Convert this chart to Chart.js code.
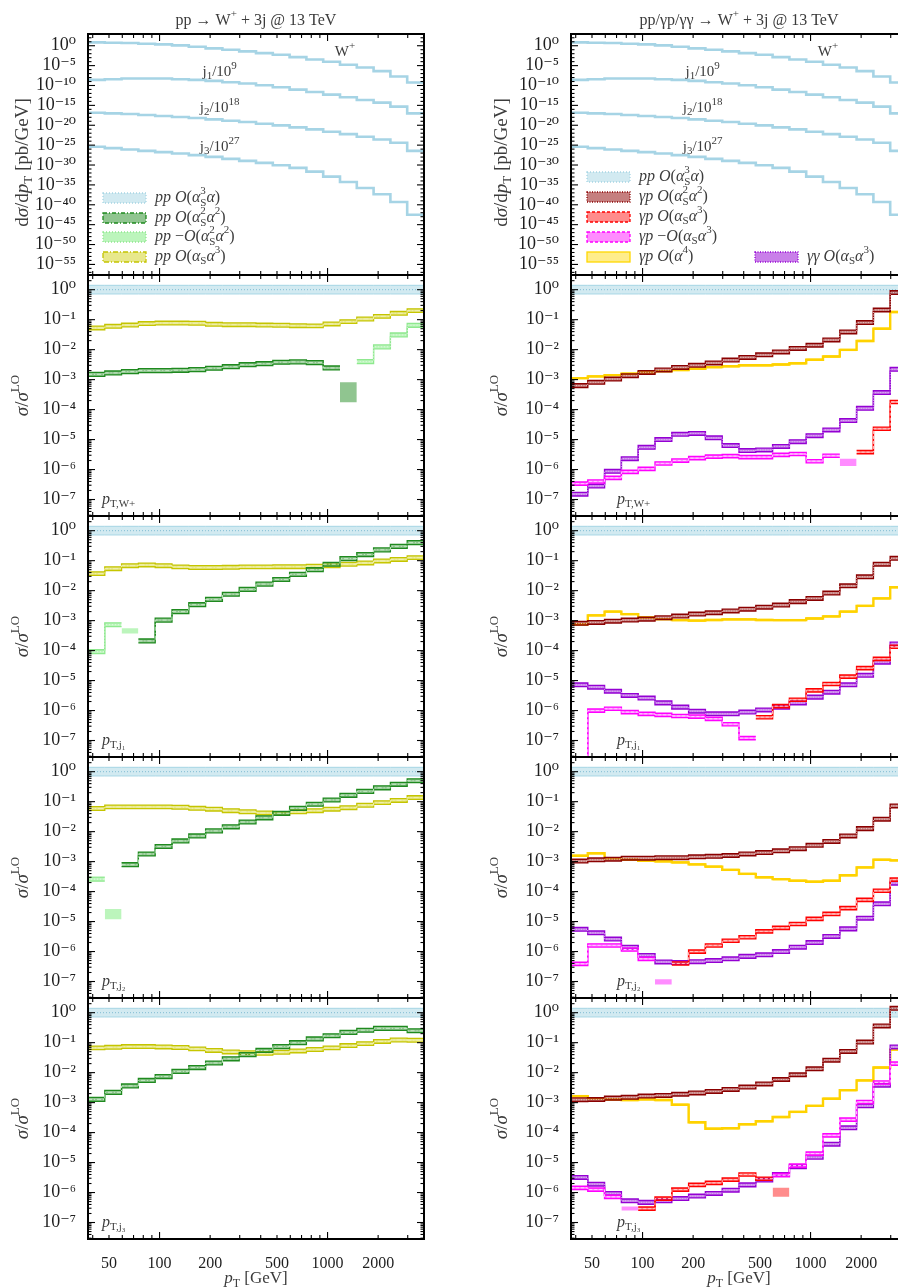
<!DOCTYPE html>
<html>
<head>
<meta charset="utf-8">
<script src="https://cdn.jsdelivr.net/npm/chart.js@4.4.1/dist/chart.umd.min.js"></script>
<style>
  html, body { margin: 0; padding: 0; background: #fff; overflow: hidden; }
  body { position: relative; width: 898px; height: 1288px; }
  canvas { position: absolute; }
</style>
</head>
<body>
<script>
// pT bin edges [GeV] (20 log bins)
const binEdges = [37.5, 47.2, 59.4, 74.8, 94.2, 118.6, 149.3, 188.0, 236.6, 297.9, 375.0,
                  472.1, 594.3, 748.2, 941.9, 1185.8, 1492.8, 1879.3, 2365.9, 2978.5, 3750];
const xTickLabels = [50, 100, 200, 500, 1000, 2000];
const ratioTicks = [1, 1e-1, 1e-2, 1e-3, 1e-4, 1e-5, 1e-6, 1e-7];
const dsTicks = [1, 1e-5, 1e-10, 1e-15, 1e-20, 1e-25, 1e-30, 1e-35, 1e-40, 1e-45, 1e-50, 1e-55];

// LO distributions dsigma/dpT [pb/GeV]
const loW  = [6.9, 5.7, 4.7, 3.2, 2.2, 1.2, 0.56, 0.21, 0.098, 0.037, 0.014, 5.4e-3, 1.4e-3, 3.5e-4, 9.1e-5, 1.6e-5, 3.4e-6, 4.0e-7, 1.8e-8, 5.5e-10];
const loJ1 = [2.6, 3.8, 5.6, 5.6, 5.6, 3.8, 2.6, 1.45, 0.67, 0.31, 0.117, 0.036, 9.4e-3, 2.4e-3, 5.1e-4, 1.1e-4, 2.3e-5, 4.9e-6, 4.8e-7, 1.0e-8];
const loJ2 = [14.5, 10, 6.8, 3.8, 2.1, 1.17, 0.66, 0.30, 0.138, 0.065, 0.0245, 9.3e-3, 2.9e-3, 9.1e-4, 2.3e-4, 6.0e-5, 1.26e-5, 2.7e-6, 3.9e-7, 3.7e-9];
const loJ3 = [38, 17.4, 8.1, 3.7, 1.7, 0.79, 0.30, 0.112, 0.035, 0.011, 3.5e-3, 8.9e-4, 1.9e-4, 2.2e-5, 1.2e-6, 5.5e-8, 1.7e-9, 4.3e-11, 4.9e-13, 3.1e-16];
const loScale = [1, 1e-9, 1e-18, 1e-27];

// LO ratio (=1)
const loRatio = [1, 1, 1, 1, 1, 1, 1, 1, 1, 1, 1, 1, 1, 1, 1, 1, 1, 1, 1, 1];

// ratios sigma/sigma_LO, pT of W+
const wS2a2     = [1.5e-3, 1.67e-3, 1.85e-3, 2.0e-3, 2.0e-3, 2.05e-3, 2.15e-3, 2.4e-3, 2.7e-3, 3.15e-3, 3.4e-3, 3.8e-3, 3.9e-3, 3.7e-3, 2.45e-3, null, null, null, null, null];
const wS2a2Neg  = [null, null, null, null, null, null, null, null, null, null, null, null, null, null, null, null, 4.0e-3, 0.0124, 0.031, 0.065];
const wSa3      = [0.053, 0.060, 0.066, 0.074, 0.077, 0.077, 0.076, 0.070, 0.068, 0.068, 0.066, 0.065, 0.063, 0.062, 0.072, 0.086, 0.105, 0.129, 0.163, 0.20];
const wGpS2a2   = [6.3e-4, 8.1e-4, 1.04e-3, 1.35e-3, 1.74e-3, 2.1e-3, 2.55e-3, 3.0e-3, 3.6e-3, 4.5e-3, 5.5e-3, 6.7e-3, 8.4e-3, 0.011, 0.014, 0.021, 0.039, 0.08, 0.21, 0.8];
const wGpSa3    = [null, null, null, null, null, null, null, null, null, null, null, null, null, null, null, null, null, 3.8e-6, 2.3e-5, 1.8e-4];
const wGpSa3Neg = [3.4e-7, 4.0e-7, 5.3e-7, 8.4e-7, 1.05e-6, 1.6e-6, 2.0e-6, 2.4e-6, 2.7e-6, 2.8e-6, 2.6e-6, 2.6e-6, 3.1e-6, 3.3e-6, 1.9e-6, 2.9e-6, null, null, null, null];
const wGpA4     = [1.12e-3, 1.28e-3, 1.41e-3, 1.58e-3, 1.74e-3, 1.92e-3, 2.1e-3, 2.3e-3, 2.6e-3, 2.8e-3, 3.0e-3, 3.0e-3, 3.2e-3, 3.5e-3, 4.6e-3, 5.9e-3, 9.8e-3, 0.0195, 0.05, 0.18];
const wGgSa3    = [1.5e-7, 2.8e-7, 8.7e-7, 2.3e-6, 5.5e-6, 1.0e-5, 1.5e-5, 1.6e-5, 1.14e-5, 6.3e-6, 4.3e-6, 4.5e-6, 5.9e-6, 8.5e-6, 1.35e-5, 2.1e-5, 4.3e-5, 1.1e-4, 3.7e-4, 2.2e-3];
// bins where only the band survives: [bin, low, high]
const wS2a2Box     = [15, 1.75e-4, 8.1e-4];
const wGpSa3NegBox = [16, 1.3e-6, 2.3e-6];

// pT of leading jet
const j1S2a2     = [null, null, null, 2.1e-4, 1.04e-3, 2.0e-3, 3.4e-3, 5.1e-3, 7.6e-3, 0.011, 0.0165, 0.0236, 0.035, 0.05, 0.076, 0.117, 0.16, 0.23, 0.30, 0.40];
const j1S2a2Neg  = [9.2e-5, 7.3e-4, null, null, null, null, null, null, null, null, null, null, null, null, null, null, null, null, null, null];
const j1Sa3      = [0.037, 0.054, 0.068, 0.072, 0.068, 0.062, 0.059, 0.059, 0.060, 0.062, 0.062, 0.063, 0.063, 0.065, 0.068, 0.076, 0.084, 0.098, 0.11, 0.126];
const j1GpS2a2   = [8.1e-4, 8.7e-4, 9.6e-4, 1.04e-3, 1.12e-3, 1.25e-3, 1.42e-3, 1.65e-3, 1.83e-3, 2.1e-3, 2.4e-3, 2.8e-3, 3.3e-3, 4.3e-3, 5.5e-3, 8.3e-3, 0.0145, 0.029, 0.076, 0.12];
const j1GpSa3    = [null, null, null, null, null, null, null, null, null, null, null, 6.0e-7, 1.4e-6, 2.3e-6, 4.7e-6, 7.7e-6, 1.35e-5, 2.6e-5, 5.3e-5, 1.35e-4];
const j1GpSa3Neg = [1e-9, 1.0e-6, 1.15e-6, 8.9e-7, 7.8e-7, 7.2e-7, 6.6e-7, 6.3e-7, 5.3e-7, 3.5e-7, 1.2e-7, null, null, null, null, null, null, null, null, null];
const j1GpA4     = [7.6e-4, 1.5e-3, 2.0e-3, 1.65e-3, 1.28e-3, 1.12e-3, 1.04e-3, 1.0e-3, 1.05e-3, 1.1e-3, 1.1e-3, 1.05e-3, 1.04e-3, 1.04e-3, 1.18e-3, 1.38e-3, 2.0e-3, 3.1e-3, 5.5e-3, 0.013];
const j1GgSa3    = [7.2e-6, 6.0e-6, 4.4e-6, 3.2e-6, 2.6e-6, 1.8e-6, 1.3e-6, 9.5e-7, 7.8e-7, 7.8e-7, 8.9e-7, 1.05e-6, 1.3e-6, 1.8e-6, 2.8e-6, 4.1e-6, 7.2e-6, 1.5e-5, 4.1e-5, 1.66e-4];
const j1S2a2NegBox = [2, 3.7e-4, 5.6e-4];

// pT of second jet
const j2S2a2     = [null, null, 7.9e-4, 1.8e-3, 3.2e-3, 4.9e-3, 7.2e-3, 0.0106, 0.0145, 0.021, 0.029, 0.041, 0.060, 0.082, 0.114, 0.163, 0.22, 0.29, 0.38, 0.50];
const j2S2a2Neg  = [2.6e-4, null, null, null, null, null, null, null, null, null, null, null, null, null, null, null, null, null, null, null];
const j2Sa3      = [0.059, 0.067, 0.067, 0.067, 0.067, 0.065, 0.060, 0.056, 0.050, 0.046, 0.042, 0.040, 0.046, 0.050, 0.056, 0.063, 0.076, 0.093, 0.11, 0.137];
const j2GpS2a2   = [1.04e-3, 1.15e-3, 1.2e-3, 1.3e-3, 1.3e-3, 1.35e-3, 1.35e-3, 1.45e-3, 1.5e-3, 1.6e-3, 1.8e-3, 2.0e-3, 2.3e-3, 2.7e-3, 3.5e-3, 4.7e-3, 7.2e-3, 0.0126, 0.026, 0.072];
const j2GpSa3    = [null, null, null, null, null, null, 4.0e-7, 1.0e-6, 1.6e-6, 2.3e-6, 3.0e-6, 4.7e-6, 6.2e-6, 8.3e-6, 1.23e-5, 1.8e-5, 2.8e-5, 5.3e-5, 1.07e-4, 2.5e-4];
const j2GpSa3Neg = [3.9e-7, 1.6e-6, 1.6e-6, 1.17e-6, 5.7e-7, null, null, null, null, null, null, null, null, null, null, null, null, null, null, null];
const j2GpA4     = [1.57e-3, 1.9e-3, 1.3e-3, 1.15e-3, 1.07e-3, 1.02e-3, 9.4e-4, 8.1e-4, 6.8e-4, 5.3e-4, 3.9e-4, 3.0e-4, 2.6e-4, 2.3e-4, 2.14e-4, 2.3e-4, 3.5e-4, 6.4e-4, 1.15e-3, 1.1e-3];
const j2GgSa3    = [5.5e-6, 4.2e-6, 2.6e-6, 1.4e-6, 7.4e-7, 4.5e-7, 4.3e-7, 4.6e-7, 5.0e-7, 5.7e-7, 6.9e-7, 7.8e-7, 1.0e-6, 1.4e-6, 2.0e-6, 3.2e-6, 5.7e-6, 1.3e-5, 3.9e-5, 1.9e-4];
const j2S2a2NegBox  = [1, 1.2e-5, 2.6e-5];
const j2GpSa3NegBox = [5, 8e-8, 1.2e-7];

// pT of third jet
const j3S2a2     = [1.28e-3, 2.2e-3, 3.6e-3, 5.5e-3, 7.4e-3, 0.011, 0.0148, 0.021, 0.029, 0.040, 0.055, 0.074, 0.10, 0.133, 0.17, 0.22, 0.26, 0.30, 0.30, 0.25];
const j3Sa3      = [0.067, 0.070, 0.074, 0.074, 0.072, 0.069, 0.062, 0.055, 0.049, 0.046, 0.044, 0.048, 0.053, 0.059, 0.067, 0.080, 0.093, 0.11, 0.123, 0.12];
const j3GpS2a2   = [1.25e-3, 1.27e-3, 1.41e-3, 1.5e-3, 1.65e-3, 1.73e-3, 1.9e-3, 2.1e-3, 2.35e-3, 2.75e-3, 3.3e-3, 4.2e-3, 5.9e-3, 8.5e-3, 0.0134, 0.026, 0.051, 0.105, 0.36, 1.4];
const j3GpSa3    = [null, null, null, null, 2.9e-7, 6.3e-7, 1.26e-6, 1.8e-6, 2.1e-6, 2.7e-6, 4.0e-6, 2.9e-6, null, null, null, null, null, null, null, null];
const j3GpSa3Neg = [1.44e-6, 1.26e-6, 7.2e-7, null, null, null, null, null, null, null, null, null, 3.8e-6, 7.9e-6, 2.0e-5, 8.1e-5, 2.7e-4, 1.05e-3, 4.7e-3, 0.02];
const j3GpA4     = [1.65e-3, 1.4e-3, 1.28e-3, 1.22e-3, 1.28e-3, 1.22e-3, 8.5e-4, 2.2e-4, 1.35e-4, 1.4e-4, 1.9e-4, 2.4e-4, 3.3e-4, 4.9e-4, 7.8e-4, 1.35e-3, 2.6e-3, 5.5e-3, 0.0148, 0.059];
const j3GgSa3    = [3.2e-6, 1.9e-6, 9.3e-7, 5.3e-7, 4.7e-7, 5.3e-7, 6.3e-7, 7.6e-7, 9.3e-7, 1.2e-6, 1.8e-6, 2.6e-6, 4.0e-6, 7.2e-6, 1.5e-5, 4.1e-5, 1.44e-4, 7.8e-4, 3.8e-3, 0.072];
const j3GpSa3Box    = [12, 7.2e-7, 1.44e-6];
const j3GpSa3NegBox = [3, 2.5e-7, 3.4e-7];

const SERIF = "'Liberation Serif', 'DejaVu Serif', serif";
const TXT = '#3c3c3c';

const styles = {
  lo:     {edge: '#a6d5e4', fill: 'rgba(173,216,230,0.55)', mid: '#7fbcd2', dash: [1, 2],       w: 1,   f: [0.72, 1.4]},
  s2a2:   {edge: '#1f8a1f', fill: 'rgba(34,139,34,0.5)',    mid: '#c6e8c6', dash: [4, 2, 1, 2], w: 1.3, f: [0.86, 1.16]},
  s2a2n:  {edge: '#8fe88f', fill: 'rgba(144,238,144,0.6)',  mid: '#dff7df', dash: [1, 2],       w: 1.3, f: [0.86, 1.16]},
  sa3:    {edge: '#c4c400', fill: 'rgba(204,204,0,0.45)',   mid: '#f0f0b0', dash: [5, 2, 1, 2], w: 1.3, f: [0.87, 1.15]},
  gpS2a2: {edge: '#8b0000', fill: 'rgba(139,0,0,0.5)',      mid: '#e8c4c4', dash: [1, 1.5],     w: 1.4, f: [0.87, 1.15]},
  gpSa3:  {edge: '#ff0000', fill: 'rgba(255,0,0,0.45)',     mid: '#ffc4c4', dash: [3, 2],       w: 1.4, f: [0.88, 1.13]},
  gpSa3n: {edge: '#ff00ff', fill: 'rgba(255,0,255,0.45)',   mid: '#ffcaff', dash: [3, 2],       w: 1.4, f: [0.88, 1.13]},
  gpA4:   {edge: '#ffd700', fill: 'rgba(255,215,0,0.45)',   mid: '#ffd200', dash: [],           w: 1,   f: [0.95, 1.05]},
  gg:     {edge: '#9400d3', fill: 'rgba(148,0,211,0.5)',    mid: '#dcbaf0', dash: [1, 1.5],     w: 1.4, f: [0.87, 1.15]}
};

// histogram outline from per-bin values
function hist(vals) {
  const pts = [];
  vals.forEach((v, k) => {
    if (v === null) {
      if (pts.length && pts[pts.length - 1].y !== null) pts.push({x: binEdges[k], y: null});
      return;
    }
    pts.push({x: binEdges[k], y: v}, {x: binEdges[k + 1], y: v});
  });
  return pts;
}

function band(vals, key) {
  const st = styles[key];
  const lo = vals.map(v => v === null ? null : v * st.f[0]);
  const hi = vals.map(v => v === null ? null : v * st.f[1]);
  return [
    {data: hist(lo), borderColor: st.edge, borderWidth: st.w, fill: false},
    {data: hist(hi), borderColor: st.edge, borderWidth: st.w, fill: '-1', backgroundColor: st.fill},
    {data: hist(vals), borderColor: st.mid, borderWidth: key === 'gpA4' ? 2.4 : 1, borderDash: st.dash, fill: false}
  ];
}

function bandOnly(b, key) {
  const lo = loRatio.map((v, k) => k === b[0] ? b[1] : null);
  const hi = loRatio.map((v, k) => k === b[0] ? b[2] : null);
  return [
    {data: hist(lo), borderColor: 'rgba(0,0,0,0)', borderWidth: 0, fill: false},
    {data: hist(hi), borderColor: 'rgba(0,0,0,0)', borderWidth: 0, fill: '-1', backgroundColor: styles[key].fill}
  ];
}

// small rich-text helper: '*' italic, '^' sup, '_' sub, '=' sub+sup stacked
function rich(ctx, parts, x, y, size, align, color, rot) {
  const big = it => (it ? 'italic ' : '') + size + 'px ' + SERIF;
  const small = Math.round(size * 0.7) + 'px ' + SERIF;
  const items = parts.map(p => {
    const c = p[0];
    if (c === '*') return {t: p.slice(1), font: big(true), dy: 0};
    if (c === '^') return {t: p.slice(1), font: small, dy: -0.4 * size};
    if (c === '_') return {t: p.slice(1), font: small, dy: 0.28 * size};
    if (c === '=') return {t: p[1], t2: p.slice(2), font: small, dy: 0.32 * size, dy2: -0.42 * size};
    return {t: p, font: big(false), dy: 0};
  });
  ctx.save();
  let w = 0;
  items.forEach(it => {
    ctx.font = it.font;
    it.w = ctx.measureText(it.t).width;
    if (it.t2) it.w = Math.max(it.w, ctx.measureText(it.t2).width);
    w += it.w;
  });
  ctx.translate(x, y);
  if (rot) ctx.rotate(rot);
  let cx = align === 'center' ? -w / 2 : align === 'right' ? -w : 0;
  ctx.fillStyle = color;
  ctx.textBaseline = 'middle';
  ctx.textAlign = 'left';
  items.forEach(it => {
    ctx.font = it.font;
    ctx.fillText(it.t, cx, it.dy);
    if (it.t2) ctx.fillText(it.t2, cx, it.dy2);
    cx += it.w;
  });
  ctx.restore();
}

const SUP = {'-': '⁻', '0': '⁰', '1': '¹', '2': '²', '3': '³', '4': '⁴', '5': '⁵', '6': '⁶', '7': '⁷', '8': '⁸', '9': '⁹'};
const pow10 = v => '10' + String(Math.round(Math.log10(v))).split('').map(c => SUP[c]).join('');

const xFrameTicks = [40, 50, 60, 70, 80, 90, 100, 200, 300, 400, 500, 600, 700, 800, 900, 1000, 2000, 3000];

const extras = new Map();

const deco = {
  id: 'deco',
  afterDraw(chart) {
    const ex = extras.get(chart.canvas);
    const {ctx, chartArea: a} = chart;
    const x = chart.scales.x, y = chart.scales.y;
    const seg = (x1, y1, x2, y2) => { ctx.beginPath(); ctx.moveTo(x1, y1); ctx.lineTo(x2, y2); ctx.stroke(); };
    ctx.save();
    ctx.strokeStyle = '#000';
    ctx.lineWidth = 1.1;
    xFrameTicks.forEach(v => {
      const px = x.getPixelForValue(v);
      const len = (v === 100 || v === 1000) ? 7 : 4;
      seg(px, a.top, px, a.top + len);
      seg(px, a.bottom, px, a.bottom - len);
    });
    const ytk = (v, len) => {
      const py = y.getPixelForValue(v);
      if (py < a.top || py > a.bottom) return;
      seg(a.left, py, a.left + len, py);
      seg(a.right, py, a.right - len, py);
    };
    if (ex.row === 0) {
      for (let d = -58; d <= 3; d++) ytk(Math.pow(10, d), d % 5 === 0 ? 7 : 3.5);
    } else {
      for (let d = -8; d <= 0; d++) for (let m = 1; m <= 9; m++) ytk(m * Math.pow(10, d), m === 1 ? 7 : 3.5);
    }
    ctx.lineWidth = 2;
    ctx.strokeRect(a.left, a.top, a.right - a.left, a.bottom - a.top);

    const cy = (a.top + a.bottom) / 2;
    const ylabX = ex.col ? 52 : 23;
    if (ex.row === 0) {
      rich(ctx, ex.title, (a.left + a.right) / 2, 21, 16, 'center', TXT);
      rich(ctx, ['d', '*σ', '/d', '*p', '_T', ' [pb/GeV]'], ylabX, cy + 8, 19, 'center', TXT, -Math.PI / 2);
      ex.notes.forEach(n => rich(ctx, n[0], x.getPixelForValue(n[1]), y.getPixelForValue(n[2]), 15, 'center', TXT));
      ex.legend.forEach(l => {
        const st = styles[l[0]];
        const bx = l[2], by = l[3];
        ctx.fillStyle = st.fill;
        ctx.fillRect(bx, by - 5, 43, 10);
        ctx.setLineDash(st.dash);
        ctx.strokeStyle = st.edge;
        ctx.lineWidth = 1.3;
        ctx.strokeRect(bx, by - 5, 43, 10);
        ctx.setLineDash([]);
        rich(ctx, l[1], bx + 52, by, 16, 'left', TXT);
      });
    } else {
      rich(ctx, ['*σ', '/', '*σ', '^LO'], ylabX, cy, 19, 'center', TXT, -Math.PI / 2);
      rich(ctx, ex.label, a.left + (ex.col ? 46 : 14), a.bottom - 16, 16, 'left', TXT);
    }
    if (ex.row === 4) {
      rich(ctx, ['*p', '_T', ' [GeV]'], (a.left + a.right) / 2, 281, 17, 'center', TXT);
    }
    ctx.restore();
  }
};

function makePanel(row, col, datasets, extra) {
  const cv = document.createElement('canvas');
  const W = col ? 470 : 450;
  const H = row === 0 ? 275 : row === 4 ? 290 : 241;
  const top = row === 0 ? 0 : 34 + 241 * row;
  cv.width = W; cv.height = H;
  cv.style.left = (col ? 450 : 0) + 'px';
  cv.style.top = top + 'px';
  cv.style.width = W + 'px';
  cv.style.height = H + 'px';
  document.body.appendChild(cv);
  extras.set(cv, Object.assign({row: row, col: col}, extra));
  const zeroPad = s => { s.paddingTop = 0; s.paddingBottom = 0; s.paddingLeft = 0; s.paddingRight = 0; };
  return new Chart(cv, {
    type: 'line',
    data: {
      datasets: datasets.map((d, i) => Object.assign({order: 1000 - i, pointRadius: 0, tension: 0, spanGaps: false}, d))
    },
    options: {
      responsive: false,
      animation: false,
      events: [],
      layout: {padding: {top: row === 0 ? 34 : 0, right: col ? 13 : 26, left: 0, bottom: 0}},
      plugins: {legend: {display: false}, tooltip: {enabled: false}},
      scales: {
        x: {
          type: 'logarithmic', min: 37.5, max: 3750, display: row === 4,
          afterBuildTicks: s => { s.ticks = xTickLabels.map(v => ({value: v})); },
          afterFit: s => { zeroPad(s); if (row === 4) s.height = 49; },
          ticks: {callback: v => String(v), font: {family: SERIF, size: 16}, color: '#1e1e1e', padding: 7, maxRotation: 0, autoSkip: false},
          grid: {display: false}, border: {display: false}
        },
        y: {
          type: 'logarithmic',
          min: row === 0 ? Math.pow(10, -57.66) : Math.pow(10, -7.55),
          max: row === 0 ? Math.pow(10, 2.95) : Math.pow(10, 0.49),
          afterBuildTicks: s => { s.ticks = (row === 0 ? dsTicks : ratioTicks).map(v => ({value: v})); },
          afterFit: s => { zeroPad(s); s.width = col ? 121 : 88; },
          ticks: {callback: v => pow10(v), font: {family: SERIF, size: 18}, color: '#1e1e1e', padding: 4, autoSkip: false},
          grid: {display: false}, border: {display: false}
        }
      }
    },
    plugins: [deco]
  });
}

// ---- top panels: LO distributions ----
function loSets() {
  return [loW, loJ1, loJ2, loJ3].map((vals, i) => ({
    data: hist(vals.map(v => v * loScale[i])), borderColor: '#a6d4e5', borderWidth: 2.6, fill: false
  }));
}
const notes = [
  [['W', '^+'], 1270, 3e-2],
  [['j', '_1', '/10', '^9'], 228, 2.7e-7],
  [['j', '_2', '/10', '^18'], 228, 2.2e-16],
  [['j', '_3', '/10', '^27'], 228, 3e-26]
];
const oS3a  = ['*O', '(', '*α', '=S3', '*α', ')'];
const oS2a2 = ['*O', '(', '*α', '=S2', '*α', '^2', ')'];
const oSa3  = ['*O', '(', '*α', '_S', '*α', '^3', ')'];
const oA4   = ['*O', '(', '*α', '^4', ')'];

makePanel(0, 0, loSets(), {
  title: ['pp → W', '^+', ' + 3j @ 13 TeV'], notes: notes,
  legend: [
    ['lo',    ['*pp', ' '].concat(oS3a),  103, 198],
    ['s2a2',  ['*pp', ' '].concat(oS2a2), 103, 218],
    ['s2a2n', ['*pp', ' −'].concat(oS2a2), 103, 237],
    ['sa3',   ['*pp', ' '].concat(oSa3),  103, 257]
  ]
});
makePanel(0, 1, loSets(), {
  title: ['pp/γp/γγ → W', '^+', ' + 3j @ 13 TeV'], notes: notes,
  legend: [
    ['lo',     ['*pp', ' '].concat(oS3a),  137, 177],
    ['gpS2a2', ['*γp', ' '].concat(oS2a2), 137, 197],
    ['gpSa3',  ['*γp', ' '].concat(oSa3),  137, 217],
    ['gpSa3n', ['*γp', ' −'].concat(oSa3), 137, 237],
    ['gpA4',   ['*γp', ' '].concat(oA4),   137, 257],
    ['gg',     ['*γγ', ' '].concat(oSa3),  305, 257]
  ]
});

// ---- ratio panels ----
const observables = [
  {label: ['*p', '_T,W+'],
   pp: [wSa3, wS2a2, wS2a2Neg], ppBoxes: [[wS2a2Box, 's2a2']],
   gp: [wGpA4, wGpS2a2, wGgSa3, wGpSa3, wGpSa3Neg], gpBoxes: [[wGpSa3NegBox, 'gpSa3n']]},
  {label: ['*p', '_T,j₁'],
   pp: [j1Sa3, j1S2a2, j1S2a2Neg], ppBoxes: [[j1S2a2NegBox, 's2a2n']],
   gp: [j1GpA4, j1GpS2a2, j1GgSa3, j1GpSa3, j1GpSa3Neg], gpBoxes: []},
  {label: ['*p', '_T,j₂'],
   pp: [j2Sa3, j2S2a2, j2S2a2Neg], ppBoxes: [[j2S2a2NegBox, 's2a2n']],
   gp: [j2GpA4, j2GpS2a2, j2GgSa3, j2GpSa3, j2GpSa3Neg], gpBoxes: [[j2GpSa3NegBox, 'gpSa3n']]},
  {label: ['*p', '_T,j₃'],
   pp: [j3Sa3, j3S2a2, null], ppBoxes: [],
   gp: [j3GpA4, j3GpS2a2, j3GgSa3, j3GpSa3, j3GpSa3Neg], gpBoxes: [[j3GpSa3Box, 'gpSa3'], [j3GpSa3NegBox, 'gpSa3n']]}
];

observables.forEach((o, i) => {
  let left = band(loRatio, 'lo');
  ['sa3', 's2a2', 's2a2n'].forEach((k, j) => { if (o.pp[j]) left = left.concat(band(o.pp[j], k)); });
  o.ppBoxes.forEach(b => { left = left.concat(bandOnly(b[0], b[1])); });
  makePanel(i + 1, 0, left, {label: o.label});

  let right = band(loRatio, 'lo');
  ['gpA4', 'gpS2a2', 'gg', 'gpSa3', 'gpSa3n'].forEach((k, j) => { right = right.concat(band(o.gp[j], k)); });
  o.gpBoxes.forEach(b => { right = right.concat(bandOnly(b[0], b[1])); });
  makePanel(i + 1, 1, right, {label: o.label});
});
</script>
</body>
</html>
